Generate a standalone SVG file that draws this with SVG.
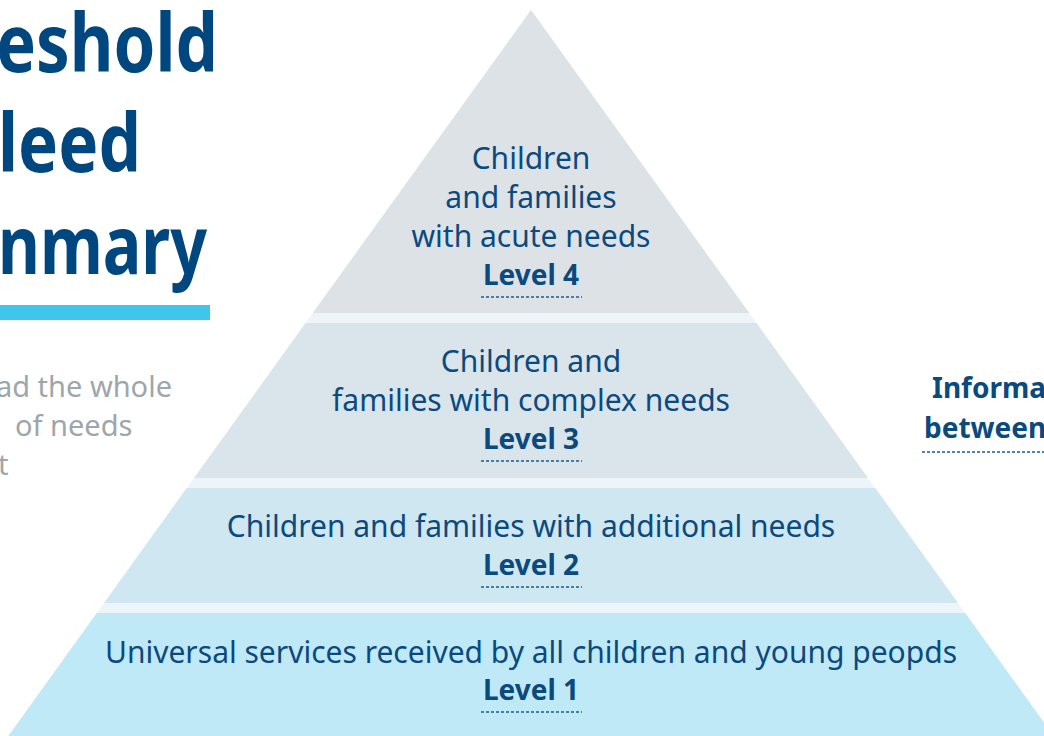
<svg xmlns="http://www.w3.org/2000/svg" width="1044" height="736" viewBox="0 0 1044 736">
  <style>
    .title { font-family: "Noto Sans", "Open Sans", sans-serif; font-weight: 700; font-size: 80px; fill: #00467f; }
    .intro { font-family: "Noto Sans", "Open Sans", sans-serif; font-size: 29px; fill: #9ea6ab; }
    .lbl { font-family: "Noto Sans", "Open Sans", sans-serif; font-size: 30px; fill: #0b4a7e; text-anchor: middle; }
    .lvl { font-family: "Noto Sans", "Open Sans", sans-serif; font-size: 28px; font-weight: 700; fill: #0b4a7e; text-anchor: middle; }
    .side { font-family: "Noto Sans", "Open Sans", sans-serif; font-size: 28px; font-weight: 700; fill: #0b4a7e; }
    .dash { stroke: #1d5c8c; stroke-width: 1.3; stroke-dasharray: 3 2; fill: none; }
  </style>
  <rect width="1044" height="736" fill="#ffffff"/>

  <!-- heading -->
  <g id="heading">
    <text class="title" x="218" y="72" text-anchor="end" textLength="222" lengthAdjust="spacingAndGlyphs">eshold</text>
    <text class="title" x="141" y="172" text-anchor="end" textLength="143" lengthAdjust="spacingAndGlyphs">leed</text>
    <text class="title" x="207" y="274" text-anchor="end" textLength="209" lengthAdjust="spacingAndGlyphs">nmary</text>
    <rect x="0" y="305" width="210" height="15" fill="#3ec6ec"/>
  </g>

  <!-- intro paragraph -->
  <g id="intro">
    <text class="intro" x="172" y="397" text-anchor="end">ad the whole</text>
    <text class="intro" x="15" y="436">of needs</text>
    <text class="intro" x="-2" y="475">t</text>
  </g>

  <!-- pyramid: light base triangle shows through as separator stripes -->
  <g id="pyramid">
    <polygon points="531,10 8.3,736 1053.7,736" fill="#eef5f8"/>
    <g id="level4">
      <polygon points="531,10 312.8,313 749.2,313" fill="#dde2e6"/>
      <text class="lbl" x="531" y="169">Children</text>
      <text class="lbl" x="531" y="208">and families</text>
      <text class="lbl" x="531" y="247">with acute needs</text>
      <text class="lvl" x="531" y="285">Level 4</text>
      <line class="dash" x1="481" y1="297" x2="582" y2="297"/>
    </g>
    <g id="level3">
      <polygon points="305.6,323 756.4,323 868,478 194,478" fill="#d9e4eb"/>
      <text class="lbl" x="531" y="372">Children and</text>
      <text class="lbl" x="531" y="411">families with complex needs</text>
      <text class="lvl" x="531" y="449">Level 3</text>
      <line class="dash" x1="481" y1="461" x2="582" y2="461"/>
    </g>
    <g id="level2">
      <polygon points="186.8,488 875.2,488 958,603 104,603" fill="#cfe7f1"/>
      <text class="lbl" x="531" y="537">Children and families with additional needs</text>
      <text class="lvl" x="531" y="575">Level 2</text>
      <line class="dash" x1="481" y1="587" x2="582" y2="587"/>
    </g>
    <g id="level1">
      <polygon points="96.8,613 965.2,613 1053.7,736 8.3,736" fill="#c0e9f7"/>
      <text class="lbl" x="531" y="663">Universal services received by all children and young peopds</text>
      <text class="lvl" x="531" y="700">Level 1</text>
      <line class="dash" x1="481" y1="712" x2="582" y2="712"/>
    </g>
  </g>

  <!-- side note -->
  <g id="side-note">
    <text class="side" x="932" y="398">Informa</text>
    <text class="side" x="924" y="438">between</text>
    <line class="dash" x1="922" y1="452" x2="1044" y2="452"/>
  </g>

  <g id="connectors"/>
</svg>
